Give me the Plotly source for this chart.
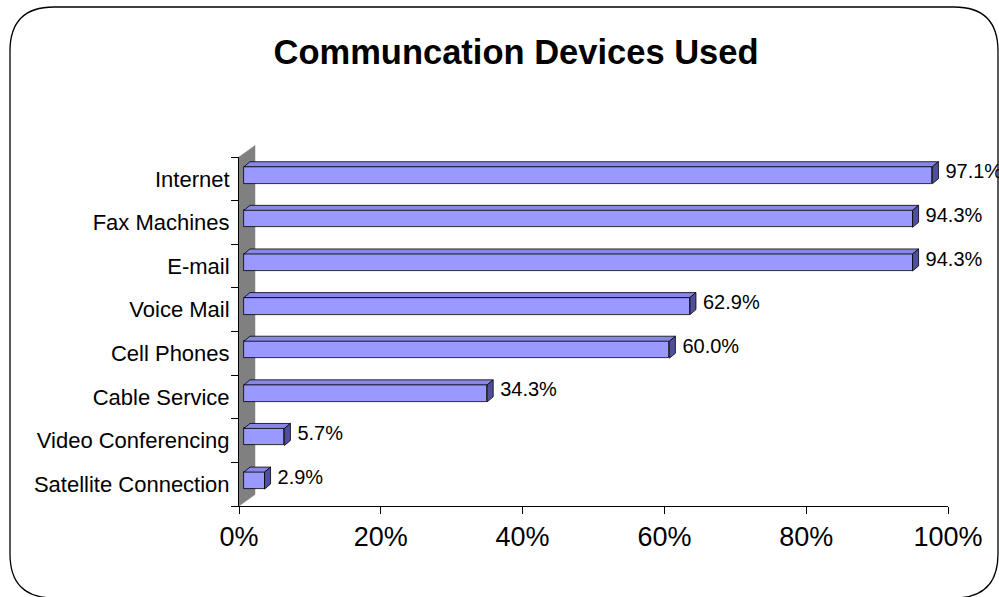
import plotly.graph_objects as go

# ---------------- data ----------------
categories = ["Satellite Connection", "Video Conferencing", "Cable Service", "Cell Phones",
              "Voice Mail", "E-mail", "Fax Machines", "Internet"]
values = [2.9, 5.7, 34.3, 60.0, 62.9, 94.3, 94.3, 97.1]
x_ticks = [0, 20, 40, 60, 80, 100]
x_tick_labels = ["0%", "20%", "40%", "60%", "80%", "100%"]
title_text = "Communcation Devices Used"

# ---------------- layout geometry (pixels) ----------------
W, H = 999, 597
L, R, T, B = 239, 948, 157, 506          # plot area edges in pixels
XMIN, XMAX = 0, 100
YMIN, YMAX = -0.5, len(categories) - 0.5
PX_X = (R - L) / (XMAX - XMIN)
PX_Y = (B - T) / (YMAX - YMIN)

# 3D look (in axis units, derived from pixel offsets)
BAR_SHIFT_X = 5 / PX_X
BAR_SHIFT_Y = 3.6 / PX_Y
BAR_H = 17 / PX_Y
DEPTH_X = 6 / PX_X
DEPTH_Y = 5 / PX_Y
LABEL_GAP = 7 / PX_X
LABEL_UP = 5.5 / PX_Y

FRONT = "#9999FF"
TOP = "#8787E6"
SIDE = "#4F4F9E"
EDGE = "#000000"
FONT = "Liberation Sans, Arial, sans-serif"

idx = list(range(len(categories)))
y_front = [i + BAR_SHIFT_Y for i in idx]

fig = go.Figure()

# front faces of the bars
fig.add_trace(go.Bar(
    x=values, y=y_front, base=[BAR_SHIFT_X] * len(values), orientation="h",
    width=BAR_H, marker=dict(color=FRONT, line=dict(color=EDGE, width=0.8)),
    hoverinfo="skip", showlegend=False,
))

# top and side faces built from the same values
top_x, top_y, side_x, side_y = [], [], [], []
for v, yc in zip(values, y_front):
    x0 = BAR_SHIFT_X
    x1 = BAR_SHIFT_X + v
    yt = yc + BAR_H / 2
    yb = yc - BAR_H / 2
    top_x += [x0, x1, x1 + DEPTH_X, x0 + DEPTH_X, x0, None]
    top_y += [yt, yt, yt + DEPTH_Y, yt + DEPTH_Y, yt, None]
    side_x += [x1, x1, x1 + DEPTH_X, x1 + DEPTH_X, x1, None]
    side_y += [yb, yt, yt + DEPTH_Y, yb + DEPTH_Y, yb, None]

fig.add_trace(go.Scatter(x=top_x, y=top_y, mode="lines", fill="toself", fillcolor=TOP,
                         line=dict(color=EDGE, width=0.8), hoverinfo="skip", showlegend=False))
fig.add_trace(go.Scatter(x=side_x, y=side_y, mode="lines", fill="toself", fillcolor=SIDE,
                         line=dict(color=EDGE, width=0.8), hoverinfo="skip", showlegend=False))

# data labels
fig.add_trace(go.Scatter(
    x=[BAR_SHIFT_X + v + DEPTH_X + LABEL_GAP for v in values],
    y=[i + LABEL_UP for i in idx],
    mode="text", text=[f"{v:.1f}%" for v in values], textposition="middle right",
    textfont=dict(family=FONT, size=20, color="#000000"),
    cliponaxis=False, hoverinfo="skip", showlegend=False,
))


def px_to_paper_x(px):
    return (px - L) / (R - L)


def px_to_paper_y(py):
    return (B - py) / (B - T)


def P(a, b):
    return f"{px_to_paper_x(a):.5f},{px_to_paper_y(b):.5f}"


# grey side wall (behind the bars)
WALL_DX, WALL_DY = 16, 11.5
wall_pts = [(L, B), (L, T), (L + WALL_DX, T - WALL_DY), (L + WALL_DX, B - WALL_DY)]
wall_path = "M " + " L ".join(P(a, b) for a, b in wall_pts) + " Z"

# rounded chart border
bx0, by0, bx1, by1, rr = 10, 7, 998, 598, 44
border_path = (
    f"M {P(bx0 + rr, by0)} L {P(bx1 - rr, by0)} Q {P(bx1, by0)} {P(bx1, by0 + rr)} "
    f"L {P(bx1, by1 - rr)} Q {P(bx1, by1)} {P(bx1 - rr, by1)} "
    f"L {P(bx0 + rr, by1)} Q {P(bx0, by1)} {P(bx0, by1 - rr)} "
    f"L {P(bx0, by0 + rr)} Q {P(bx0, by0)} {P(bx0 + rr, by0)} Z"
)

fig.update_layout(
    width=W, height=H,
    margin=dict(l=L, r=W - R, t=T, b=H - B, pad=0),
    paper_bgcolor="white", plot_bgcolor="white",
    font=dict(family=FONT, color="#000000"),
    title=dict(text=f"<b>{title_text}</b>", x=516 / W, y=1 - 52 / H, xref="container", yref="container",
               xanchor="center", yanchor="middle",
               font=dict(family=FONT, size=34.5, color="#000000")),
    bargap=0,
    shapes=[
        dict(type="path", path=wall_path, xref="paper", yref="paper", fillcolor="#808080",
             line=dict(color="#808080", width=0.5), layer="below"),
        dict(type="path", path=border_path, xref="paper", yref="paper",
             line=dict(color="#000000", width=1.3), fillcolor="rgba(0,0,0,0)", layer="above"),
    ],
)

fig.update_xaxes(
    range=[XMIN, XMAX], tickvals=x_ticks, ticktext=x_tick_labels,
    ticks="outside", ticklen=7, tickcolor="#000000", tickwidth=1,
    showline=True, linecolor="#000000", linewidth=1, showgrid=False, zeroline=False,
    tickfont=dict(size=27), ticklabelstandoff=0, fixedrange=True,
)
fig.update_yaxes(
    range=[YMIN, YMAX], tickvals=idx, ticktext=categories,
    ticks="outside", ticklen=4, tickcolor="rgba(0,0,0,0)",
    minor=dict(tickmode="array", tickvals=[i - 0.5 for i in range(len(categories) + 1)],
               ticks="outside", ticklen=7, tickcolor="#000000", tickwidth=1),
    showline=True, linecolor="#000000", linewidth=1, showgrid=False, zeroline=False,
    tickfont=dict(size=22), fixedrange=True,
)

fig.write_html("out.html", config={"displayModeBar": False},
               post_script="document.body.style.margin='0';document.body.style.overflow='hidden';")
